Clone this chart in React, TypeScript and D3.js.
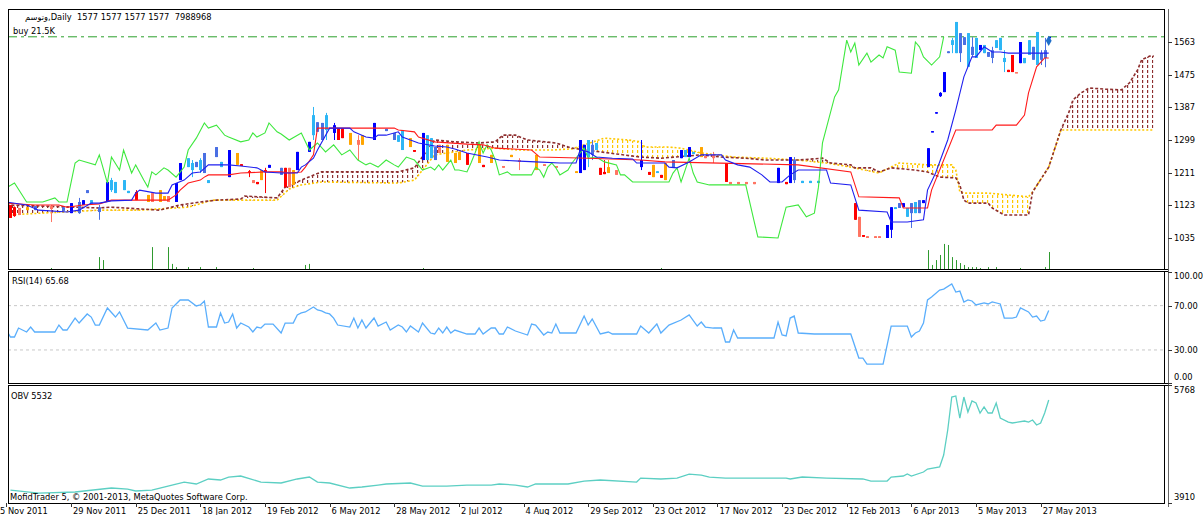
import React from 'react';
import * as d3 from 'd3';

type P = [number, number];
// [bar, open, high, low, close, colour]
type C = [number, number, number, number, number, string];

const W = 1203;
const H = 515;

const dateLabels = ['5 Nov 2011', '29 Nov 2011', '25 Dec 2011', '18 Jan 2012', '19 Feb 2012', '6 May 2012', '28 May 2012', '2 Jul 2012', '4 Aug 2012', '29 Sep 2012', '23 Oct 2012', '17 Nov 2012', '23 Dec 2012', '12 Feb 2013', '6 Apr 2013', '5 May 2013', '27 May 2013'];
const dateBars = [0, 16, 32, 48, 64, 80, 96, 112, 128, 144, 160, 176, 192, 208, 224, 240, 256];

const priceTicks = [1563, 1475, 1387, 1299, 1211, 1123, 1035];
const rsiTicks = [100, 70, 30, 0];
const rsiLevels = [70, 30];
const obvTicks = [5768, 3910];
const buyLevel = 1577;
const lastBar = 258;

const candles: C[] = [
  [1, 1124, 1124, 1089, 1089, 'R'], [2, 1118, 1120, 1092, 1094, 'R'], [3, 1116, 1116, 1097, 1097, 'P'], [5, 1118, 1118, 1110, 1110, 'O'],
  [7, 1110, 1121, 1110, 1121, 'S'], [11, 1121, 1124, 1078, 1113, 'P'], [14, 1108, 1118, 1108, 1118, 'S'], [16, 1102, 1129, 1102, 1129, 'B'],
  [18, 1102, 1143, 1100, 1132, 'S'], [19, 1124, 1137, 1124, 1137, 'B'], [20, 1156, 1164, 1156, 1164, 'S'], [21, 1127, 1137, 1127, 1137, 'L'],
  [23, 1105, 1124, 1084, 1118, 'S'], [25, 1132, 1186, 1132, 1186, 'B'], [26, 1164, 1197, 1159, 1191, 'L'], [27, 1156, 1186, 1156, 1186, 'L'],
  [29, 1164, 1191, 1164, 1191, 'L'], [30, 1156, 1162, 1156, 1162, 'L'], [32, 1159, 1164, 1137, 1137, 'R'], [35, 1151, 1151, 1132, 1132, 'O'],
  [36, 1156, 1156, 1132, 1132, 'P'], [38, 1164, 1164, 1132, 1132, 'O'], [39, 1148, 1148, 1137, 1137, 'O'], [40, 1148, 1148, 1132, 1132, 'P'],
  [42, 1132, 1183, 1132, 1183, 'B'], [43, 1191, 1237, 1191, 1237, 'B'], [45, 1226, 1250, 1226, 1250, 'L'], [46, 1218, 1245, 1199, 1237, 'L'],
  [47, 1226, 1240, 1226, 1240, 'S'], [48, 1218, 1250, 1210, 1245, 'L'], [49, 1210, 1264, 1210, 1264, 'S'], [50, 1183, 1191, 1183, 1191, 'L'],
  [52, 1253, 1280, 1253, 1280, 'S'], [53, 1226, 1240, 1226, 1240, 'L'], [55, 1199, 1272, 1199, 1272, 'B'], [57, 1264, 1264, 1232, 1232, 'O'],
  [58, 1234, 1234, 1229, 1229, 'R'], [60, 1215, 1218, 1199, 1210, 'R'], [61, 1191, 1191, 1183, 1183, 'P'], [62, 1186, 1186, 1180, 1180, 'R'],
  [63, 1218, 1218, 1191, 1191, 'O'], [64, 1218, 1224, 1156, 1213, 'R'], [65, 1224, 1232, 1224, 1232, 'B'], [68, 1205, 1224, 1205, 1224, 'S'],
  [69, 1224, 1224, 1172, 1172, 'R'], [70, 1224, 1224, 1172, 1172, 'P'], [71, 1218, 1218, 1178, 1178, 'O'], [72, 1218, 1267, 1218, 1267, 'B'],
  [75, 1267, 1294, 1267, 1294, 'B'], [76, 1312, 1388, 1299, 1366, 'L'], [77, 1321, 1347, 1321, 1347, 'S'], [78, 1299, 1345, 1299, 1345, 'S'],
  [79, 1326, 1372, 1299, 1366, 'L'], [81, 1318, 1345, 1299, 1339, 'B'], [82, 1331, 1331, 1299, 1299, 'R'], [83, 1331, 1331, 1304, 1304, 'R'],
  [85, 1318, 1318, 1286, 1286, 'O'], [87, 1299, 1312, 1245, 1286, 'P'], [88, 1312, 1312, 1286, 1286, 'O'], [91, 1299, 1345, 1299, 1345, 'B'],
  [94, 1323, 1329, 1323, 1329, 'S'], [96, 1299, 1318, 1299, 1318, 'S'], [97, 1294, 1312, 1294, 1312, 'L'], [98, 1272, 1326, 1272, 1326, 'L'],
  [100, 1304, 1304, 1280, 1280, 'O'], [101, 1272, 1272, 1267, 1267, 'R'], [103, 1245, 1318, 1245, 1318, 'B'], [104, 1245, 1312, 1245, 1312, 'L'],
  [105, 1250, 1304, 1250, 1304, 'L'], [106, 1245, 1280, 1245, 1280, 'S'], [107, 1286, 1286, 1264, 1264, 'P'], [109, 1286, 1286, 1240, 1240, 'O'],
  [111, 1264, 1264, 1237, 1237, 'O'], [112, 1267, 1267, 1245, 1245, 'O'], [114, 1264, 1264, 1232, 1232, 'R'], [117, 1286, 1286, 1237, 1237, 'O'],
  [118, 1232, 1232, 1226, 1226, 'R'], [120, 1259, 1259, 1237, 1237, 'O'], [123, 1229, 1229, 1224, 1224, 'P'], [125, 1259, 1259, 1253, 1253, 'O'],
  [127, 1245, 1250, 1218, 1240, 'P'], [131, 1259, 1259, 1218, 1218, 'O'], [133, 1234, 1234, 1229, 1229, 'P'], [136, 1229, 1229, 1224, 1224, 'P'],
  [141, 1215, 1215, 1210, 1210, 'O'], [142, 1210, 1299, 1210, 1299, 'B'], [143, 1218, 1286, 1218, 1286, 'B'], [144, 1253, 1299, 1226, 1299, 'L'],
  [145, 1259, 1299, 1245, 1286, 'S'], [146, 1272, 1291, 1272, 1291, 'L'], [147, 1224, 1224, 1205, 1205, 'R'], [148, 1213, 1245, 1207, 1207, 'R'],
  [149, 1226, 1245, 1210, 1210, 'O'], [151, 1218, 1218, 1205, 1205, 'P'], [157, 1226, 1299, 1218, 1245, 'B'], [159, 1213, 1213, 1205, 1205, 'R'],
  [160, 1232, 1232, 1199, 1199, 'O'], [161, 1210, 1215, 1210, 1215, 'L'], [162, 1205, 1205, 1197, 1197, 'R'], [163, 1237, 1237, 1191, 1191, 'O'],
  [165, 1226, 1245, 1226, 1245, 'S'], [167, 1250, 1272, 1250, 1272, 'B'], [168, 1253, 1272, 1253, 1272, 'L'], [169, 1253, 1280, 1253, 1280, 'B'],
  [170, 1261, 1267, 1261, 1267, 'L'], [172, 1280, 1280, 1253, 1253, 'O'], [173, 1256, 1256, 1250, 1250, 'P'], [175, 1259, 1267, 1237, 1250, 'P'],
  [178, 1237, 1237, 1186, 1186, 'R'], [179, 1186, 1186, 1180, 1180, 'P'], [181, 1186, 1186, 1180, 1180, 'P'], [183, 1186, 1186, 1180, 1180, 'P'],
  [185, 1186, 1186, 1180, 1180, 'P'], [191, 1183, 1224, 1183, 1224, 'B'], [193, 1186, 1186, 1180, 1180, 'R'], [194, 1183, 1253, 1183, 1253, 'B'],
  [195, 1191, 1253, 1183, 1245, 'S'], [197, 1183, 1189, 1183, 1189, 'L'], [199, 1183, 1189, 1183, 1189, 'L'], [201, 1183, 1189, 1183, 1189, 'L'],
  [210, 1129, 1129, 1084, 1084, 'R'], [211, 1092, 1092, 1038, 1038, 'P'], [212, 1043, 1043, 1038, 1038, 'R'], [213, 1040, 1040, 1035, 1035, 'P'],
  [215, 1040, 1040, 1035, 1035, 'P'], [216, 1040, 1040, 1035, 1035, 'P'], [218, 1035, 1070, 1035, 1070, 'B'], [219, 1057, 1118, 1035, 1118, 'B'],
  [220, 1113, 1118, 1113, 1118, 'L'], [221, 1116, 1129, 1116, 1129, 'S'], [222, 1118, 1129, 1118, 1129, 'B'], [223, 1092, 1116, 1092, 1116, 'L'],
  [224, 1102, 1129, 1062, 1129, 'S'], [225, 1102, 1132, 1102, 1132, 'L'], [226, 1102, 1137, 1102, 1137, 'S'], [227, 1129, 1137, 1129, 1137, 'B'],
  [228, 1226, 1277, 1226, 1277, 'B'], [229, 1320, 1323, 1320, 1323, 'B'], [230, 1370, 1374, 1370, 1374, 'B'], [231, 1417, 1428, 1415, 1426, 'B'],
  [232, 1428, 1482, 1428, 1482, 'B'], [233, 1533, 1538, 1533, 1538, 'S'], [234, 1555, 1574, 1533, 1568, 'L'], [235, 1533, 1617, 1533, 1617, 'L'],
  [236, 1533, 1587, 1509, 1587, 'S'], [237, 1555, 1576, 1555, 1576, 'S'], [238, 1496, 1587, 1496, 1587, 'L'], [239, 1528, 1576, 1523, 1550, 'S'],
  [240, 1520, 1574, 1520, 1574, 'L'], [241, 1541, 1555, 1541, 1555, 'B'], [242, 1533, 1555, 1533, 1555, 'L'], [243, 1523, 1536, 1523, 1536, 'S'],
  [244, 1520, 1550, 1506, 1541, 'S'], [245, 1547, 1568, 1547, 1568, 'L'], [246, 1541, 1574, 1541, 1574, 'L'], [247, 1509, 1541, 1482, 1520, 'L'],
  [248, 1488, 1488, 1482, 1482, 'R'], [249, 1528, 1528, 1482, 1482, 'R'], [250, 1482, 1482, 1479, 1479, 'P'], [251, 1506, 1563, 1506, 1563, 'B'],
  [252, 1506, 1520, 1506, 1520, 'L'], [253, 1528, 1568, 1528, 1568, 'L'], [254, 1515, 1550, 1515, 1550, 'S'], [255, 1501, 1590, 1501, 1590, 'L'],
  [256, 1515, 1541, 1501, 1533, 'S'], [257, 1520, 1574, 1495, 1541, 'S'], [258, 1577, 1577, 1577, 1577, 'B'],
];

const tenkan: P[] = [
  [0, 1132], [5, 1124], [8, 1110], [15, 1105], [18, 1110], [21, 1129], [23, 1129], [26, 1135], [31, 1137], [32, 1156], [33, 1164], [37, 1156],
  [40, 1156], [41, 1178], [44, 1191], [46, 1210], [48, 1213], [50, 1232], [55, 1232], [58, 1229], [62, 1224], [64, 1213], [68, 1210], [72, 1210],
  [73, 1226], [74, 1232], [76, 1250], [77, 1272], [80, 1331], [85, 1331], [86, 1321], [89, 1307], [91, 1304], [92, 1312], [94, 1312], [97, 1321],
  [98, 1307], [100, 1299], [102, 1291], [106, 1283], [109, 1280], [111, 1275], [114, 1264], [119, 1253], [122, 1245], [127, 1242], [131, 1240],
  [137, 1237], [141, 1237], [142, 1272], [144, 1267], [146, 1253], [150, 1250], [155, 1248], [156, 1237], [163, 1237], [164, 1226], [166, 1224],
  [169, 1240], [172, 1259], [177, 1259], [178, 1245], [181, 1232], [184, 1226], [187, 1205], [189, 1186], [192, 1186], [194, 1205], [196, 1218],
  [203, 1218], [204, 1183], [209, 1178], [211, 1110], [218, 1105], [219, 1078], [223, 1078], [227, 1084], [228, 1164], [230, 1210], [233, 1299],
  [235, 1380], [237, 1469], [239, 1523], [240, 1523], [242, 1550], [244, 1536], [246, 1536], [248, 1533], [251, 1533], [258, 1533],
];

const kijun: P[] = [
  [0, 1129], [7, 1124], [13, 1124], [15, 1118], [19, 1124], [23, 1127], [26, 1137], [40, 1137], [42, 1151], [43, 1164], [45, 1183], [48, 1191],
  [49, 1199], [50, 1205], [55, 1205], [58, 1210], [64, 1213], [68, 1213], [70, 1210], [73, 1213], [74, 1226], [76, 1259], [77, 1331], [96, 1331],
  [97, 1326], [101, 1321], [102, 1307], [106, 1294], [114, 1288], [118, 1286], [121, 1277], [130, 1272], [132, 1253], [144, 1250], [157, 1245],
  [163, 1240], [196, 1232], [209, 1213], [211, 1146], [221, 1143], [222, 1116], [228, 1116], [229, 1164], [235, 1326], [244, 1326], [245, 1339],
  [250, 1339], [252, 1366], [253, 1426], [255, 1496], [257, 1520], [258, 1520],
];

const chikou: P[] = [
  [0, 1170], [2, 1183], [5, 1132], [9, 1132], [12, 1143], [13, 1132], [15, 1132], [17, 1237], [18, 1245], [22, 1232], [23, 1259], [25, 1183],
  [26, 1253], [28, 1218], [29, 1272], [31, 1210], [32, 1232], [34, 1191], [35, 1172], [36, 1213], [37, 1205], [39, 1224], [40, 1218], [42, 1199],
  [44, 1226], [45, 1272], [47, 1304], [49, 1345], [50, 1331], [52, 1339], [53, 1326], [54, 1312], [55, 1307], [58, 1294], [60, 1299], [61, 1318],
  [62, 1307], [64, 1318], [65, 1345], [67, 1321], [68, 1315], [70, 1299], [73, 1318], [75, 1272], [77, 1291], [79, 1267], [81, 1286], [83, 1259],
  [85, 1272], [87, 1245], [89, 1232], [90, 1237], [92, 1226], [94, 1245], [96, 1232], [97, 1226], [99, 1253], [101, 1245], [103, 1218], [105, 1226],
  [106, 1218], [107, 1232], [108, 1218], [110, 1245], [111, 1218], [112, 1218], [114, 1213], [115, 1237], [116, 1264], [117, 1294], [118, 1264],
  [119, 1286], [120, 1272], [121, 1245], [122, 1205], [124, 1213], [125, 1205], [130, 1205], [131, 1226], [132, 1218], [133, 1199], [134, 1226],
  [135, 1237], [136, 1224], [137, 1205], [139, 1218], [140, 1237], [142, 1264], [143, 1277], [144, 1250], [146, 1253], [148, 1240], [151, 1232],
  [152, 1205], [153, 1205], [155, 1186], [159, 1186], [164, 1186], [165, 1210], [166, 1224], [167, 1186], [168, 1218], [169, 1250], [170, 1210],
  [171, 1186], [174, 1178], [183, 1178], [185, 1084], [186, 1038], [191, 1035], [193, 1118], [196, 1124], [198, 1092], [200, 1102], [201, 1172],
  [202, 1291], [205, 1415], [206, 1434], [208, 1568], [209, 1536], [210, 1560], [211, 1501], [213, 1533], [214, 1509], [216, 1528], [217, 1520],
  [218, 1550], [220, 1541], [221, 1482], [224, 1479], [225, 1563], [226, 1550], [227, 1523], [229, 1501], [231, 1523], [232, 1577],
];

const spanA: P[] = [
  [0, 1097], [23, 1110], [33, 1110], [45, 1118], [51, 1137], [58, 1137], [67, 1137], [70, 1167], [73, 1178], [78, 1186], [97, 1183], [101, 1191],
  [106, 1259], [114, 1272], [121, 1277], [127, 1272], [135, 1272], [140, 1275], [148, 1304], [154, 1299], [157, 1294], [158, 1280], [164, 1280],
  [167, 1277], [172, 1264], [180, 1253], [188, 1250], [196, 1245], [203, 1237], [209, 1226], [216, 1210], [221, 1237], [228, 1232], [234, 1232],
  [235, 1218], [236, 1159], [237, 1156], [243, 1156], [253, 1146], [254, 1159], [258, 1226], [261, 1326], [284, 1326],
];

const spanB: P[] = [
  [0, 1124], [23, 1116], [26, 1118], [38, 1110], [43, 1124], [48, 1132], [52, 1137], [58, 1140], [59, 1148], [67, 1143], [69, 1172], [73, 1191],
  [78, 1213], [97, 1213], [101, 1224], [106, 1299], [111, 1294], [117, 1291], [121, 1294], [122, 1304], [123, 1312], [126, 1312], [129, 1299],
  [136, 1291], [140, 1277], [147, 1267], [157, 1253], [162, 1250], [172, 1259], [177, 1253], [183, 1250], [188, 1245], [196, 1245], [202, 1250],
  [204, 1237], [209, 1232], [210, 1224], [214, 1224], [216, 1213], [219, 1224], [225, 1218], [228, 1213], [231, 1199], [235, 1197], [236, 1178],
  [237, 1137], [238, 1129], [243, 1129], [244, 1116], [247, 1097], [253, 1097], [254, 1159], [258, 1226], [261, 1326], [263, 1374], [264, 1407],
  [266, 1426], [268, 1439], [272, 1436], [276, 1434], [278, 1453], [280, 1488], [281, 1515], [283, 1525], [284, 1525],
];

const volumes: P[] = [
  [11, 470000], [23, 5600000], [24, 4200000], [36, 10300000], [40, 10300000], [41, 2400000], [42, 900000], [45, 900000], [48, 900000],
  [52, 900000], [61, 470000], [74, 1900000], [75, 2400000], [103, 470000], [162, 470000], [228, 8900000], [229, 1900000], [230, 4200000],
  [231, 6600000], [232, 11800000], [233, 11300000], [234, 5600000], [235, 4200000], [236, 2800000], [237, 1900000], [238, 900000],
  [239, 900000], [240, 900000], [241, 470000], [243, 900000], [245, 900000], [251, 470000], [257, 900000], [258, 7988968],
];

const rsi: P[] = [
  [0, 48.0], [1, 41.7], [2, 41.7], [3, 49.8], [5, 46.2], [6, 50.7], [7, 46.2], [12, 46.2], [13, 52.5], [14, 48.0], [15, 48.0], [17, 58.8],
  [18, 54.3], [20, 62.5], [21, 59.7], [22, 52.5], [23, 52.5], [25, 67.9], [27, 59.7], [28, 64.3], [29, 57.0], [30, 49.8], [35, 48.0], [37, 54.3],
  [38, 48.0], [40, 49.8], [41, 67.9], [43, 75.1], [45, 75.1], [47, 69.7], [48, 70.6], [49, 74.2], [50, 50.7], [52, 50.7], [53, 63.4], [54, 54.3],
  [55, 55.2], [56, 62.5], [57, 49.8], [58, 54.3], [60, 50.7], [61, 46.2], [62, 50.7], [63, 49.8], [64, 53.4], [66, 53.4], [68, 45.3], [69, 54.3],
  [71, 54.3], [72, 61.6], [73, 63.4], [74, 64.3], [76, 68.8], [77, 66.1], [78, 65.2], [79, 63.4], [80, 62.5], [81, 58.8], [82, 52.5], [85, 50.7],
  [86, 58.8], [87, 49.8], [88, 57.0], [89, 49.8], [91, 58.8], [92, 51.6], [94, 55.2], [95, 48.0], [97, 52.5], [98, 50.7], [99, 46.2], [100, 51.6],
  [102, 46.2], [103, 54.3], [105, 45.3], [106, 44.4], [107, 49.8], [108, 45.3], [109, 50.7], [110, 45.3], [111, 48.0], [114, 44.4], [116, 44.4],
  [117, 49.8], [118, 44.4], [120, 49.8], [121, 49.8], [122, 44.4], [123, 44.4], [124, 50.7], [126, 47.1], [129, 43.5], [130, 53.4], [131, 52.5],
  [133, 43.5], [134, 46.2], [135, 45.3], [136, 53.4], [137, 45.3], [141, 45.3], [143, 60.6], [144, 52.5], [145, 57.9], [147, 44.4], [149, 46.2],
  [150, 44.4], [156, 44.4], [157, 51.6], [159, 45.3], [161, 53.4], [162, 45.3], [164, 52.5], [167, 57.0], [169, 61.6], [171, 51.6], [172, 55.2],
  [173, 50.7], [175, 49.8], [177, 49.8], [178, 37.2], [179, 37.2], [180, 48.0], [181, 40.8], [190, 40.8], [191, 55.2], [192, 43.5], [193, 42.6],
  [194, 58.8], [195, 60.6], [196, 45.3], [200, 44.4], [209, 44.4], [211, 22.7], [212, 22.7], [213, 17.3], [217, 17.3], [219, 51.6], [223, 51.6],
  [224, 41.7], [225, 45.3], [226, 47.1], [227, 54.3], [228, 75.1], [229, 77.8], [231, 84.1], [232, 85.0], [234, 89.5], [235, 82.3], [236, 83.2],
  [237, 73.3], [238, 75.1], [239, 74.2], [240, 70.6], [242, 72.4], [243, 71.5], [244, 73.3], [246, 71.5], [247, 58.8], [249, 58.8], [250, 59.7],
  [251, 67.9], [253, 64.3], [254, 59.7], [255, 60.6], [256, 56.1], [257, 57.0], [258, 65.68],
];

const obv: P[] = [
  [1, 4114], [8, 4067], [17, 4083], [26, 4146], [30, 4130], [32, 4099], [36, 4114], [40, 4177], [44, 4240], [47, 4209], [50, 4288], [53, 4272],
  [55, 4319], [58, 4335], [63, 4240], [68, 4225], [72, 4288], [75, 4319], [77, 4240], [80, 4225], [85, 4146], [88, 4162], [92, 4193], [94, 4209],
  [100, 4225], [103, 4177], [109, 4177], [114, 4193], [120, 4193], [122, 4209], [126, 4193], [129, 4162], [131, 4209], [139, 4209], [143, 4256],
  [147, 4272], [156, 4240], [157, 4303], [162, 4288], [166, 4303], [169, 4366], [172, 4350], [174, 4319], [178, 4303], [193, 4303], [194, 4288],
  [197, 4319], [203, 4303], [212, 4288], [214, 4256], [218, 4256], [219, 4319], [222, 4335], [223, 4366], [224, 4335], [227, 4398], [228, 4445],
  [231, 4477], [232, 4666], [233, 5059], [234, 5579], [235, 5595], [236, 5248], [237, 5579], [238, 5343], [239, 5516], [240, 5484], [241, 5327],
  [242, 5422], [243, 5327], [244, 5327], [245, 5484], [246, 5248], [248, 5185], [249, 5170], [252, 5201], [253, 5185], [254, 5217], [255, 5138],
  [256, 5170], [257, 5327], [258, 5532],
];

const candleColors: Record<string, string> = {
  B: '#0000ff', S: '#4a6fe3', L: '#2db6f5', R: '#ff0000', O: '#ffa500', P: '#ff7563',
};

const FONT = 'DejaVu Sans, Verdana, sans-serif';

export default function App() {
  // panel layout
  const left = 8;
  const right = 1164;
  const axisX = 1168;
  const main = { top: 9, bottom: 269 };
  const rsiP = { top: 271, bottom: 383 };
  const obvP = { top: 385, bottom: 503 };

  const x = d3.scaleLinear().domain([0, 284]).range([6.4, 6.4 + 284 * 4.04]);
  const yP = d3.scaleLinear().domain([1035, 1563]).range([238, 42]);
  const yV = d3.scaleLinear().domain([0, 8000000]).range([main.bottom, main.bottom - 17]);
  const yR = d3.scaleLinear().domain([0, 100]).range([383.2, 272.4]);
  const yO = d3.scaleLinear().domain([3910, 5768]).range([obvP.bottom, obvP.top]);

  const priceLine = d3.line<P>().x(d => x(d[0])).y(d => yP(d[1]));
  const rsiLine = d3.line<P>().x(d => x(d[0])).y(d => yR(d[1]));
  const obvLine = d3.line<P>().x(d => x(d[0])).y(d => yO(d[1]));

  // cloud: band between span A and span B, split by which span is on top
  const ptsA = spanA.map(d => [x(d[0]), yP(d[1])]);
  const ptsB = spanB.map(d => [x(d[0]), yP(d[1])]);
  const toPath = (pts: number[][]) => pts.map(p => `${p[0]},${p[1]}`).join('L');
  const band = `M${toPath(ptsA)}L${toPath(ptsB.slice().reverse())}Z`;
  const below = (pts: number[][]) =>
    `M${toPath(pts)}L${pts[pts.length - 1][0]},${main.bottom}L${pts[0][0]},${main.bottom}Z`;

  const txt = { fontFamily: FONT, fontSize: 8.3, fill: '#000' } as const;

  const axisLabel = (y: number, top: number, bottom: number) => Math.min(Math.max(y, top + 5), bottom - 6) + 3;

  return (
    <svg width={W} height={H} style={{ position: 'absolute', left: 0, top: 0, background: '#fff' }}>
      <defs>
        <clipPath id="mainClip"><rect x={left} y={main.top} width={right - left} height={main.bottom - main.top} /></clipPath>
        <clipPath id="rsiClip"><rect x={left} y={rsiP.top} width={right - left} height={rsiP.bottom - rsiP.top} /></clipPath>
        <clipPath id="obvClip"><rect x={left} y={obvP.top} width={right - left} height={obvP.bottom - obvP.top} /></clipPath>
        <clipPath id="belowA"><path d={below(ptsA)} /></clipPath>
        <clipPath id="belowB"><path d={below(ptsB)} /></clipPath>
        <pattern id="hatchY" patternUnits="userSpaceOnUse" x={7} y={0} width={5} height={5}>
          <rect x={0} y={0} width={1.2} height={3} fill="#ffc800" />
        </pattern>
        <pattern id="hatchB" patternUnits="userSpaceOnUse" x={7} y={0} width={5} height={5}>
          <rect x={0} y={0} width={1.2} height={3} fill="#8e2f2f" />
        </pattern>
      </defs>

      {/* main panel */}
      <g clipPath="url(#mainClip)">
        <g clipPath="url(#belowA)"><path d={band} fill="url(#hatchY)" /></g>
        <g clipPath="url(#belowB)"><path d={band} fill="url(#hatchB)" /></g>
        <path d={priceLine(spanA) || ''} fill="none" stroke="#ffc800" strokeWidth={1.6} strokeDasharray="2,2" />
        <path d={priceLine(spanB) || ''} fill="none" stroke="#8e2f2f" strokeWidth={1.6} strokeDasharray="3,2" />

        {volumes.map((d, k) => (
          <line key={`v${k}`} x1={Math.round(x(d[0])) + 0.5} x2={Math.round(x(d[0])) + 0.5} y1={main.bottom} y2={yV(d[1])}
            stroke="#2f9a2f" strokeWidth={1} />
        ))}

        <line x1={left} x2={right} y1={yP(buyLevel)} y2={yP(buyLevel)} stroke="#2ca02c" strokeWidth={1}
          strokeDasharray="9,4,3,4" />

        {candles.map((c, k) => {
          const [i, o, h, l, cl, col] = c;
          const cx = Math.round(x(i));
          const top = yP(Math.max(o, cl));
          const bot = yP(Math.min(o, cl));
          const color = candleColors[col];
          return (
            <g key={`c${k}`}>
              <line x1={cx + 0.5} x2={cx + 0.5} y1={yP(h)} y2={yP(l)} stroke={color} strokeWidth={1} />
              <rect x={cx - 1} y={top} width={3} height={Math.max(1.5, bot - top)} fill={color} />
            </g>
          );
        })}

        <path d={priceLine(chikou) || ''} fill="none" stroke="#3ee83e" strokeWidth={1.1} />
        <path d={priceLine(kijun) || ''} fill="none" stroke="#ff1a1a" strokeWidth={1.1} />
        <path d={priceLine(tenkan) || ''} fill="none" stroke="#1f1fef" strokeWidth={1.1} />

        <path d={d3.symbol().type(d3.symbolDiamond).size(30)() || ''}
          transform={`translate(${x(lastBar)},${yP(buyLevel) + 4})`} fill="#1f6fc9" />
      </g>

      {/* RSI panel */}
      <g clipPath="url(#rsiClip)">
        {rsiLevels.map(v => (
          <line key={`rl${v}`} x1={left} x2={right} y1={yR(v)} y2={yR(v)} stroke="#c8c8c8" strokeDasharray="3,3" />
        ))}
        <path d={rsiLine(rsi) || ''} fill="none" stroke="#5aaefc" strokeWidth={1.3} />
      </g>

      {/* OBV panel */}
      <g clipPath="url(#obvClip)">
        <path d={obvLine(obv) || ''} fill="none" stroke="#5ccfc3" strokeWidth={1.3} />
      </g>

      {/* frames */}
      <rect x={left + 0.5} y={main.top + 0.5} width={right - left} height={main.bottom - main.top} fill="none" stroke="#000" />
      <rect x={left + 0.5} y={rsiP.top + 0.5} width={right - left} height={rsiP.bottom - rsiP.top} fill="none" stroke="#000" />
      <rect x={left + 0.5} y={obvP.top + 0.5} width={right - left} height={obvP.bottom - obvP.top} fill="none" stroke="#000" />
      {[main.bottom, rsiP.top, rsiP.bottom, obvP.top].map(y => (
        <line key={`sep${y}`} x1={right} x2={axisX} y1={y + 0.5} y2={y + 0.5} stroke="#000" />
      ))}
      <line x1={axisX + 0.5} x2={axisX + 0.5} y1={main.top} y2={obvP.bottom + 4} stroke="#666" />

      {/* right axes */}
      {priceTicks.map(v => (
        <g key={`pt${v}`}>
          <line x1={axisX} x2={axisX + 4} y1={Math.round(yP(v)) + 0.5} y2={Math.round(yP(v)) + 0.5} stroke="#333" />
          <text x={axisX + 6} y={yP(v) + 3} style={txt}>{v}</text>
        </g>
      ))}
      {rsiTicks.map(v => (
        <g key={`rt${v}`}>
          <line x1={axisX} x2={axisX + 4} y1={Math.round(yR(v)) + 0.5} y2={Math.round(yR(v)) + 0.5} stroke="#333" />
          <text x={axisX + 6} y={axisLabel(yR(v), rsiP.top, rsiP.bottom)} style={txt}>{v.toFixed(2)}</text>
        </g>
      ))}
      {obvTicks.map(v => (
        <g key={`ot${v}`}>
          <line x1={axisX} x2={axisX + 4} y1={Math.round(yO(v)) + 0.5} y2={Math.round(yO(v)) + 0.5} stroke="#333" />
          <text x={axisX + 6} y={axisLabel(yO(v), obvP.top, obvP.bottom)} style={txt}>{v}</text>
        </g>
      ))}

      {/* time axis */}
      {dateBars.map((b, k) => (
        <g key={`d${k}`}>
          <line x1={Math.round(x(b)) + 0.5} x2={Math.round(x(b)) + 0.5} y1={obvP.bottom} y2={obvP.bottom + 4} stroke="#333" />
          <text x={k === 0 ? 0 : x(b) + 2} y={514} style={txt}>{dateLabels[k]}</text>
        </g>
      ))}

      {/* labels */}
      <text x={25} y={19.5} style={{ ...txt, whiteSpace: 'pre' }}>{'وتوسم,Daily  1577 1577 1577 1577  7988968'}</text>
      <text x={13} y={34} style={txt}>buy 21.5K</text>
      <text x={12} y={284} style={txt}>RSI(14) 65.68</text>
      <text x={11} y={398.5} style={txt}>OBV 5532</text>
      <text x={10} y={499.5} style={txt}>MofidTrader 5, © 2001-2013, MetaQuotes Software Corp.</text>
    </svg>
  );
}
